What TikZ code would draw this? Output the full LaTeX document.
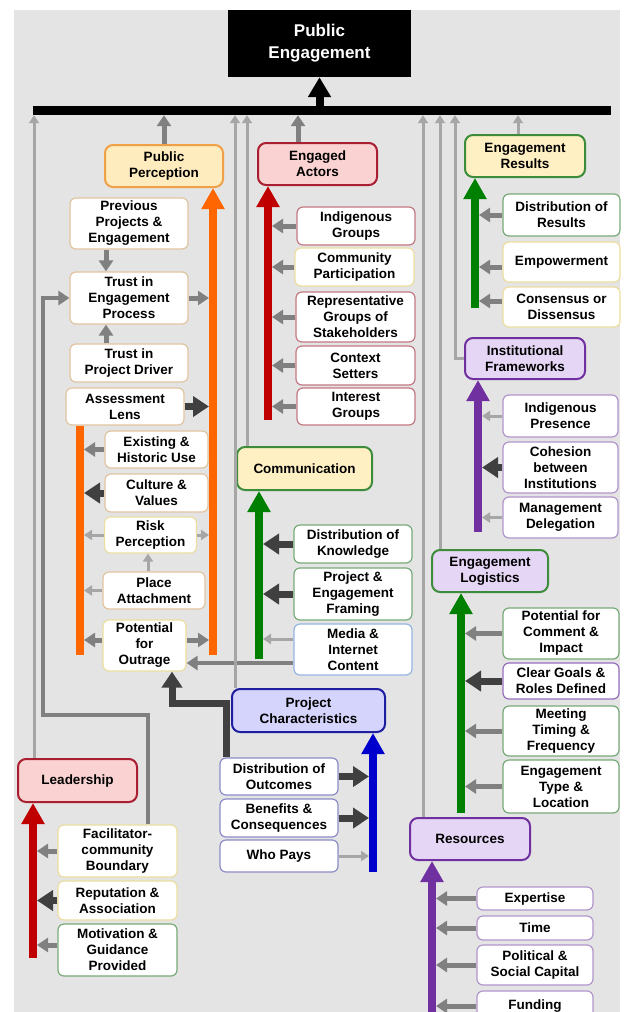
\documentclass[tikz,border=0pt]{standalone}
\usepackage{fontspec}
\setmainfont{Liberation Sans}
\usetikzlibrary{arrows.meta,calc}
\definecolor{bgc}{RGB}{228,228,228}
\definecolor{lgray}{RGB}{166,166,166}
\definecolor{mgray}{RGB}{128,128,128}
\definecolor{dgray}{RGB}{64,64,64}
\definecolor{aorange}{RGB}{255,102,0}
\definecolor{dred}{RGB}{192,0,0}
\definecolor{dgreen}{RGB}{0,128,0}
\definecolor{apurp}{RGB}{112,48,160}
\definecolor{dblue}{RGB}{0,0,204}
\definecolor{tanb}{RGB}{226,196,160}
\definecolor{yelb}{RGB}{236,222,160}
\definecolor{pinkb}{RGB}{196,120,130}
\definecolor{greenb}{RGB}{120,170,120}
\definecolor{lavb}{RGB}{176,150,204}
\definecolor{blueb}{RGB}{150,180,225}
\definecolor{pcb}{RGB}{140,140,200}
\definecolor{purpb}{RGB}{150,110,190}
\definecolor{ppf}{RGB}{255,236,190}
\definecolor{ppd}{RGB}{240,160,70}
\definecolor{eaf}{RGB}{250,210,210}
\definecolor{ead}{RGB}{170,30,50}
\definecolor{erf}{RGB}{255,240,195}
\definecolor{erd}{RGB}{60,140,60}
\definecolor{iff}{RGB}{230,214,245}
\definecolor{ifd}{RGB}{112,48,160}
\definecolor{pcf}{RGB}{212,212,252}
\definecolor{pcd}{RGB}{30,30,160}
\begin{document}
\begin{tikzpicture}[x=1pt,y=-1pt,
  base/.style={rounded corners=6pt, align=center, inner sep=0pt, text=black,
    font=\bfseries\fontsize{13.5}{16}\selectfont},
  sub/.style={base, fill=white, draw=#1, line width=1.2pt},
  mainbox/.style 2 args={base, fill=#1, draw=#2, line width=2pt, rounded corners=8pt},
  lt/.style={draw=lgray, line width=3pt, -{Triangle[length=8pt,width=10pt]}},
  md/.style={draw=mgray, line width=5pt, -{Triangle[length=11pt,width=14pt]}},
  dk/.style={draw=dgray, line width=7pt, -{Triangle[length=16pt,width=20pt]}},
  big/.style={draw=#1, line width=8pt, -{Triangle[length=21pt,width=22pt]}},
  bigline/.style={draw=#1, line width=8pt}
]
\useasboundingbox (0,0) rectangle (625,1012);
\clip (0,0) rectangle (625,1012);
\fill[bgc] (14,10) rectangle (620,1012);

% top
\node[base, fill=black, text=white, sharp corners, minimum width=183, minimum height=67,
  font=\bfseries\fontsize{17}{22}\selectfont] (pe) at (319.5,43.5) {Public\\Engagement};
\node[fill=black, inner sep=0pt, minimum width=578, minimum height=9] (bar) at (322,110.5) {};
\draw[draw=black, line width=8pt, -{Triangle[length=20pt,width=22pt]}] (bar.north -| pe.south) -- (pe.south);

% x positions
\coordinate (xa) at (34,0);
\coordinate (xf) at (43,0);
\coordinate (xpc) at (235,0);
\coordinate (xco) at (247,0);
\coordinate (xea) at (298,0);
\coordinate (xres) at (423,0);
\coordinate (xel) at (440,0);
\coordinate (xif) at (455,0);
\coordinate (xer) at (518,0);

% Public Perception group
\node[mainbox={ppf}{ppd}, minimum width=118, minimum height=42] (pp) at (164,166) {Public\\Perception};
\node[sub=tanb, minimum width=118, minimum height=51] (prev) at (129,223.5) {Previous\\Projects \&\\Engagement};
\node[sub=tanb, minimum width=118, minimum height=52] (tep) at (129,298) {Trust in\\Engagement\\Process};
\node[sub=tanb, minimum width=118, minimum height=38] (tpd) at (129,363) {Trust in\\Project Driver};
\node[sub=tanb, minimum width=118, minimum height=37] (al) at (125,406.5) {Assessment\\Lens};
\node[sub=tanb, minimum width=103, minimum height=37] (ehu) at (156.5,449.5) {Existing \&\\Historic Use};
\node[sub=tanb, minimum width=103, minimum height=38] (cv) at (156.5,493) {Culture \&\\Values};
\node[sub=yelb, minimum width=92, minimum height=36] (rp) at (150.5,535) {Risk\\Perception};
\node[sub=tanb, minimum width=102, minimum height=37] (pa) at (154,590.5) {Place\\Attachment};
\node[sub=yelb, minimum width=83, minimum height=51] (po) at (144.5,645.5) {Potential\\for\\Outrage};

\coordinate (c106) at (106,0);
\coordinate (c148) at (148,0);
\coordinate (orL) at (80,0);
\coordinate (orLb) at (80,655);
\coordinate (orLr) at (84,0);
\coordinate (orRb) at (213,655);
\coordinate (orRl) at (209,0);
\coordinate (y640) at (0,640);

\draw[bigline=aorange] (al.south -| orL) -- (orLb);
\draw[big=aorange] (orRb) -- (pp.south -| orRb);
\draw[md] (prev.south -| c106) -- (tep.north -| c106);
\draw[md] (tpd.north -| c106) -- (tep.south -| c106);
\draw[md] (tep.east) -- (tep.east -| orRl);
\draw[dk] (al.east) -- (al.east -| orRl);
\draw[md] (ehu.west) -- (ehu.west -| orLr);
\draw[dk] (cv.west) -- (cv.west -| orLr);
\draw[lt] (rp.west) -- (rp.west -| orLr);
\draw[lt] (rp.east) -- (rp.east -| orRl);
\draw[lt] (pa.north -| c148) -- (rp.south -| c148);
\draw[lt] (pa.west) -- (pa.west -| orLr);
\draw[md] (po.west |- y640) -- (orLr |- y640);
\draw[md] (po.east |- y640) -- (orRl |- y640);

% Engaged Actors
\node[mainbox={eaf}{ead}, minimum width=119, minimum height=42] (ea) at (317.5,164) {Engaged\\Actors};
\node[sub=pinkb, minimum width=118, minimum height=38] (ig) at (356,226) {Indigenous\\Groups};
\node[sub=yelb, minimum width=119, minimum height=38] (cp) at (354.5,267) {Community\\Participation};
\node[sub=pinkb, minimum width=119, minimum height=50] (rgs) at (355.5,317) {Representative\\Groups of\\Stakeholders};
\node[sub=pinkb, minimum width=119, minimum height=39] (cs) at (355.5,365.5) {Context\\Setters};
\node[sub=pinkb, minimum width=118, minimum height=37] (intg) at (356,406.5) {Interest\\Groups};
\coordinate (eab) at (268,420);
\coordinate (eaR) at (272,0);
\draw[big=dred] (eab) -- (ea.south -| eab);
\foreach \n in {ig,cp,rgs,cs,intg} \draw[md] (\n.west) -- (\n.west -| eaR);

% Engagement Results
\node[mainbox={erf}{erd}, minimum width=120, minimum height=42] (er) at (525,156) {Engagement\\Results};
\node[sub=greenb, minimum width=117, minimum height=42] (dor) at (561.5,215) {Distribution of\\Results};
\node[sub=yelb, minimum width=117, minimum height=40] (emp) at (561.5,262) {Empowerment};
\node[sub=yelb, minimum width=117, minimum height=40] (cd) at (561.5,307) {Consensus or\\Dissensus};
\coordinate (erb) at (475,308);
\coordinate (erR) at (479,0);
\coordinate (y267) at (0,267);
\coordinate (y301) at (0,301);
\draw[big=dgreen] (erb) -- (er.south -| erb);
\draw[md] (dor.west) -- (dor.west -| erR);
\draw[md] (emp.west |- y267) -- (erR |- y267);
\draw[md] (cd.west |- y301) -- (erR |- y301);

% Institutional Frameworks
\node[mainbox={iff}{ifd}, minimum width=120, minimum height=41] (ifr) at (525,358.5) {Institutional\\Frameworks};
\node[sub=lavb, minimum width=115, minimum height=42] (ip) at (560.5,416) {Indigenous\\Presence};
\node[sub=lavb, minimum width=115, minimum height=51] (cbi) at (560.5,467.5) {Cohesion\\between\\Institutions};
\node[sub=lavb, minimum width=115, minimum height=41] (mdel) at (560.5,517.5) {Management\\Delegation};
\coordinate (ifb) at (478,532);
\coordinate (ifR) at (482,0);
\draw[big=apurp] (ifb) -- (ifr.south -| ifb);
\draw[lt] (ip.west) -- (ip.west -| ifR);
\draw[dk] (cbi.west) -- (cbi.west -| ifR);
\draw[lt] (mdel.west) -- (mdel.west -| ifR);

% Engagement Logistics
\node[mainbox={iff}{erd}, minimum width=116, minimum height=42] (el) at (490,571) {Engagement\\Logistics};
\node[sub=greenb, minimum width=116, minimum height=51] (pci) at (561,633.5) {Potential for\\Comment \&\\Impact};
\node[sub=purpb, minimum width=116, minimum height=36] (cgr) at (561,681) {Clear Goals \&\\Roles Defined};
\node[sub=greenb, minimum width=116, minimum height=50] (mtf) at (561,731) {Meeting\\Timing \&\\Frequency};
\node[sub=greenb, minimum width=116, minimum height=53] (etl) at (561,786.5) {Engagement\\Type \&\\Location};
\coordinate (elb) at (461,813);
\coordinate (elR) at (465,0);
\draw[big=dgreen] (elb) -- (el.south -| elb);
\draw[md] (pci.west) -- (pci.west -| elR);
\draw[dk] (cgr.west) -- (cgr.west -| elR);
\draw[md] (mtf.west) -- (mtf.west -| elR);
\draw[md] (etl.west) -- (etl.west -| elR);

% Resources
\node[mainbox={iff}{ifd}, minimum width=120, minimum height=42] (res) at (470,839) {Resources};
\node[sub=lavb, minimum width=116, minimum height=23] (exp) at (535,898.5) {Expertise};
\node[sub=lavb, minimum width=116, minimum height=24] (tim) at (535,928) {Time};
\node[sub=lavb, minimum width=116, minimum height=40] (psc) at (535,965) {Political \&\\Social Capital};
\node[sub=lavb, minimum width=116, minimum height=30] (fund) at (535,1006) {Funding};
\coordinate (resb) at (432,1020);
\coordinate (resR) at (436,0);
\draw[big=apurp] (resb) -- (res.south -| resb);
\foreach \n in {exp,tim,psc,fund} \draw[md] (\n.west) -- (\n.west -| resR);

% Communication
\node[mainbox={erf}{erd}, minimum width=135, minimum height=43] (com) at (304.5,468.5) {Communication};
\node[sub=greenb, minimum width=118, minimum height=38] (dok) at (353,544) {Distribution of\\Knowledge};
\node[sub=greenb, minimum width=118, minimum height=52] (pef) at (353,594) {Project \&\\Engagement\\Framing};
\node[sub=blueb, minimum width=118, minimum height=51] (media) at (353,649.5) {Media \&\\Internet\\Content};
\coordinate (comb) at (259,659);
\coordinate (comR) at (263,0);
\coordinate (y639) at (0,639);
\coordinate (y663) at (0,663);
\draw[big=dgreen] (comb) -- (com.south -| comb);
\draw[dk] (dok.west) -- (dok.west -| comR);
\draw[dk] (pef.west) -- (pef.west -| comR);
\draw[lt] (media.west |- y639) -- (comR |- y639);
\draw[md, line width=4pt] (media.west |- y663) -- (po.east |- y663);

% Project Characteristics
\node[mainbox={pcf}{pcd}, minimum width=153, minimum height=43] (pc) at (308.5,710.5) {Project\\Characteristics};
\node[sub=pcb, minimum width=118, minimum height=37] (dout) at (279,776.5) {Distribution of\\Outcomes};
\node[sub=pcb, minimum width=118, minimum height=38] (bc) at (279,818) {Benefits \&\\Consequences};
\node[sub=pcb, minimum width=118, minimum height=32] (wp) at (279,856) {Who Pays};
\coordinate (pcb0) at (373,872);
\coordinate (pcL) at (369,0);
\draw[big=dblue] (pcb0) -- (pc.south -| pcb0);
\draw[dk] (dout.east) -- (dout.east -| pcL);
\draw[dk] (bc.east) -- (bc.east -| pcL);
\draw[lt] (wp.east) -- (wp.east -| pcL);
\coordinate (d1) at (226,703);
\coordinate (d2) at (172,703);
\draw[dk, sharp corners] (dout.north -| d1) -- (d1) -- (d2) -- (po.south -| d2);

% Leadership
\node[mainbox={eaf}{ead}, minimum width=119, minimum height=43] (lead) at (77.5,780.5) {Leadership};
\node[sub=yelb, minimum width=119, minimum height=52] (fac) at (117.5,851) {Facilitator-\\community\\Boundary};
\node[sub=yelb, minimum width=119, minimum height=39] (rep) at (117.5,900.5) {Reputation \&\\Association};
\node[sub=greenb, minimum width=119, minimum height=52] (mot) at (117.5,950) {Motivation \&\\Guidance\\Provided};
\coordinate (ldb) at (33,958);
\coordinate (ldR) at (37,0);
\coordinate (y945) at (0,945);
\draw[big=dred] (ldb) -- (lead.south -| ldb);
\draw[md] (fac.west) -- (fac.west -| ldR);
\draw[dk] (rep.west) -- (rep.west -| ldR);
\draw[md] (mot.west |- y945) -- (ldR |- y945);
\coordinate (f1) at (148,715);
\coordinate (f2) at (43,715);
\draw[md, line width=4pt, sharp corners] (fac.north -| f1) -- (f1) -- (f2) |- (tep.west);

% links to the bar
\draw[lt] (lead.north -| xa) -- (bar.south -| xa);
\draw[md] (pp.north) -- (bar.south -| pp.north);
\draw[lt] (pc.north -| xpc) -- (bar.south -| xpc);
\draw[lt] (com.north -| xco) -- (bar.south -| xco);
\draw[md] (ea.north -| xea) -- (bar.south -| xea);
\draw[lt] (res.north -| xres) -- (bar.south -| xres);
\draw[lt] (el.north -| xel) -- (bar.south -| xel);
\draw[lt, sharp corners] (ifr.west) -| (bar.south -| xif);
\draw[lt] (er.north -| xer) -- (bar.south -| xer);
\end{tikzpicture}
\end{document}
